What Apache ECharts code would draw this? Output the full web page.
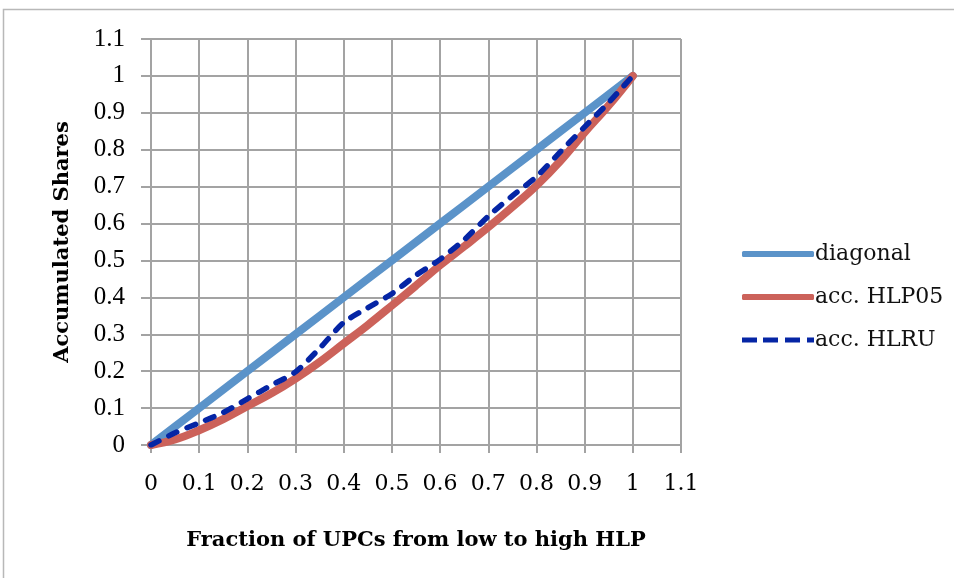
<!DOCTYPE html>
<html>
<head>
<meta charset="utf-8">
<script src="https://cdn.jsdelivr.net/npm/echarts@6/dist/echarts.min.js"></script>
<style>
  html, body { margin: 0; padding: 0; background: #fff; }
  #chart { width: 954px; height: 578px; }
</style>
</head>
<body>
<div id="chart"></div>
<script>
// fraction of UPCs (x) and accumulated shares per series
const fractions = [0, 0.05, 0.1, 0.15, 0.2, 0.25, 0.3, 0.35, 0.4, 0.45, 0.5, 0.55, 0.6, 0.65, 0.7, 0.75, 0.8, 0.85, 0.9, 0.95, 1]
const diagonal = [0, 0.05, 0.1, 0.15, 0.2, 0.25, 0.3, 0.35, 0.4, 0.45, 0.5, 0.55, 0.6, 0.65, 0.7, 0.75, 0.8, 0.85, 0.9, 0.95, 1]
const accHLP05 = [0, 0.015, 0.04, 0.07, 0.105, 0.14, 0.18, 0.225, 0.275, 0.325, 0.378, 0.432, 0.487, 0.538, 0.59, 0.645, 0.703, 0.77, 0.847, 0.92, 1]
const accHLRU = [0, 0.033, 0.06, 0.088, 0.125, 0.162, 0.198, 0.262, 0.332, 0.372, 0.41, 0.46, 0.503, 0.556, 0.62, 0.675, 0.727, 0.795, 0.862, 0.928, 1]
const names = ['diagonal', 'acc. HLP05', 'acc. HLRU']

const pairs = ys => fractions.map((x, i) => [x, ys[i]])

const gridColor = '#a3a3a3'
const colors = ['#5b93c9', '#cc625a', '#0525a5']

const chart = echarts.init(document.getElementById('chart'))
const option = {
  animation: false,
  graphic: [{
    type: 'rect',
    shape: { x: 3.5, y: 9.5, width: 1000, height: 700 },
    style: { fill: 'none', stroke: '#b8b8b8', lineWidth: 1.5 }
  }],
  grid: { left: 151, top: 39, right: 273, bottom: 133 },
  legend: {
    left: 737,
    top: 238,
    orient: 'vertical',
    itemWidth: 72,
    itemHeight: 6,
    itemGap: 21,
    textStyle: { fontFamily: 'DejaVu Serif', fontSize: 22, color: '#111', padding: [0, 0, 0, -4] },
    data: [
      { name: names[0], icon: 'roundRect', itemStyle: { color: colors[0] } },
      { name: names[1], icon: 'roundRect', itemStyle: { color: colors[1] } },
      {
        name: names[2],
        icon: 'path://M0,0h15v5h-15z M21,0h15v5h-15z M43,0h15v5h-15z M65,0h7v5h-7z',
        itemStyle: { color: colors[2] }
      }
    ]
  },
  xAxis: {
    type: 'value',
    min: 0,
    max: 1.1,
    interval: 0.1,
    name: 'Fraction of UPCs from low to high HLP',
    nameLocation: 'middle',
    nameGap: 85,
    nameTextStyle: { fontFamily: 'DejaVu Serif', fontWeight: 'bold', fontSize: 21, color: '#000' },
    axisLine: { lineStyle: { color: gridColor, width: 2 } },
    axisTick: { show: true, length: 8, lineStyle: { color: gridColor, width: 2 } },
    axisLabel: { margin: 28, fontFamily: 'DejaVu Serif', fontSize: 22, color: '#000' },
    splitLine: { show: true, lineStyle: { color: gridColor, width: 2 } }
  },
  yAxis: {
    type: 'value',
    min: 0,
    max: 1.1,
    interval: 0.1,
    name: 'Accumulated Shares',
    nameLocation: 'middle',
    nameGap: 78,
    nameTextStyle: { fontFamily: 'DejaVu Serif', fontWeight: 'bold', fontSize: 21, color: '#000' },
    axisLine: { show: true, lineStyle: { color: gridColor, width: 2 } },
    axisTick: { show: true, length: 10, lineStyle: { color: gridColor, width: 2 } },
    axisLabel: { margin: 26, fontFamily: 'Liberation Serif', fontSize: 25, color: '#000' },
    splitLine: { show: true, lineStyle: { color: gridColor, width: 2 } }
  },
  series: [
    {
      name: names[0],
      type: 'line',
      symbol: 'none',
      z: 2,
      lineStyle: { color: colors[0], width: 8, cap: 'round' },
      itemStyle: { color: colors[0] },
      data: pairs(diagonal)
    },
    {
      name: names[1],
      type: 'line',
      symbol: 'none',
      smooth: 0.4,
      z: 3,
      lineStyle: { color: colors[1], width: 8, cap: 'round' },
      itemStyle: { color: colors[1] },
      data: pairs(accHLP05)
    },
    {
      name: names[2],
      type: 'line',
      symbol: 'none',
      smooth: 0.25,
      z: 4,
      lineStyle: { color: colors[2], width: 5.5, type: [9, 11], cap: 'round' },
      itemStyle: { color: colors[2] },
      data: pairs(accHLRU)
    }
  ]
}
chart.setOption(option)
</script>
</body>
</html>
